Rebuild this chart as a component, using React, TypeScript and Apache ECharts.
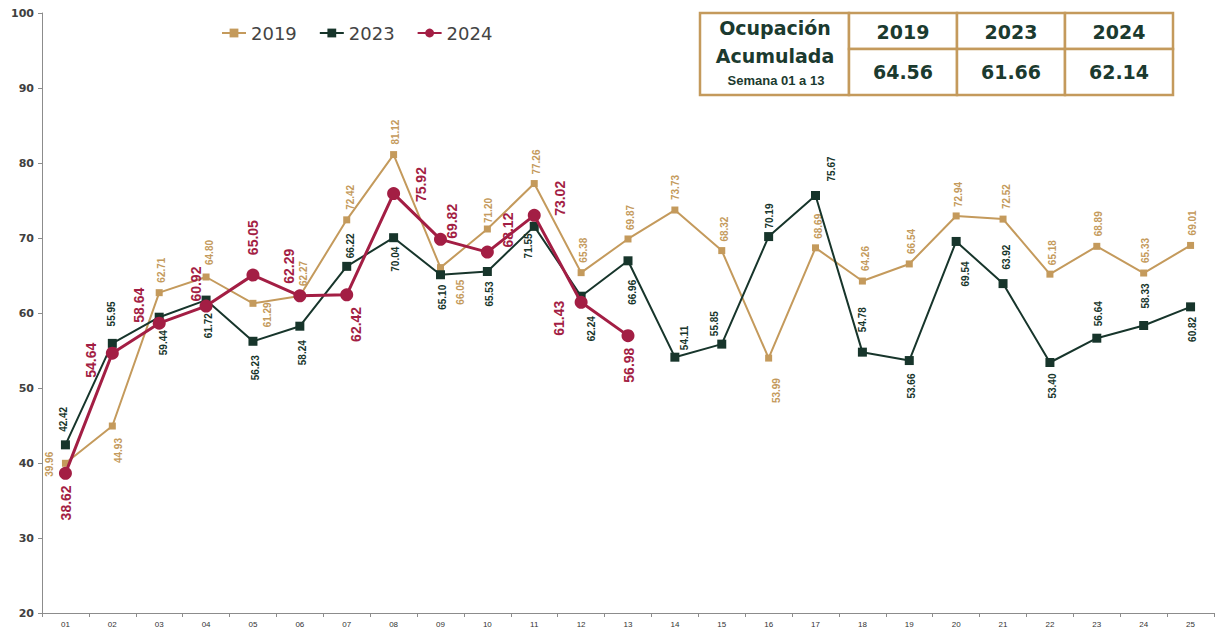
import React, { useEffect, useRef } from "react";
import * as echarts from "echarts";

const weeks = ["01","02","03","04","05","06","07","08","09","10","11","12","13","14","15","16","17","18","19","20","21","22","23","24","25"];
const occ2019 = [39.96,44.93,62.71,64.80,61.29,62.27,72.42,81.12,66.05,71.20,77.26,65.38,69.87,73.73,68.32,53.99,68.69,64.26,66.54,72.94,72.52,65.18,68.89,65.33,69.01];
const occ2023 = [42.42,55.95,59.44,61.72,56.23,58.24,66.22,70.04,65.10,65.53,71.55,62.24,66.96,54.11,55.85,70.19,75.67,54.78,53.66,69.54,63.92,53.40,56.64,58.33,60.82];
const occ2024 = [38.62,54.64,58.64,60.92,65.05,62.29,62.42,75.92,69.82,68.12,73.02,61.43,56.98];
const seriesNames = ["2019", "2023", "2024"];
const yMin = 20;
const yMax = 100;
const yStep = 10;
const tableTitle = ["Ocupación", "Acumulada", "Semana 01 a 13"];
const tableYears = ["2019", "2023", "2024"];
const tableValues = ["64.56", "61.66", "62.14"];

// label placement: mode (T above, B below, C centred), dx, dy from the point
type Place = [string, number, number];
const place2019: Place[] = [
  ["C",-16,1],["B",6,12],["T",2,-10],["T",3,-12],["B",15,-1],["T",4,-10],["T",4,-10],["T",2,-10],["B",20,12],["T",1,-6],["T",2,-9],["T",2,-10],["T",2,-9],
  ["T",1,-10],["T",3,-9],["B",8,20],["T",3,-9],["T",3,-10],["T",2,-10],["T",2,-9],["T",3,-10],["T",3,-9],["T",2,-10],["T",2,-10],["T",2,-10],
];
const place2023: Place[] = [
  ["T",-2,-13],["T",-1,-17],["B",4,13],["B",2,13],["B",3,14],["B",3,14],["T",4,-8],["B",2,9],["B",2,10],["B",2,10],["B",-6,7],["B",10,20],["B",4,19],
  ["T",10,-7],["T",-7,-8],["T",1,-8],["T",16,-14],["T",0,-20],["B",2,13],["B",9,20],["T",3,-14],["B",3,11],["T",2,-12],["T",2,-17],["B",2,10],
];
const place2024: Place[] = [
  ["B",1,12],["C",-21,7],["C",-20,-18],["C",-10,-22],["T",0,-20],["T",-11,-12],["B",9,12],["C",27,-9],["C",12,-18],["C",21,-22],["C",26,-17],["C",-22,16],["B",1,12],
];

const TAN = "#C49A5C";
const GREEN = "#17352B";
const RED = "#A31E44";
const LABEL_FONT = "'Liberation Sans', Arial, sans-serif";

function buildData(values: number[], places: Place[], symSize: number, color: string, fontSize: number, fontWeight: any) {
  return values.map((v, i) => {
    const [mode, dx, dy] = places[i];
    const align = mode === "T" ? "left" : mode === "B" ? "right" : "center";
    return {
      value: v,
      label: {
        show: true,
        position: [symSize / 2 + dx, symSize / 2 + dy],
        rotate: 90,
        align,
        verticalAlign: "middle",
        color,
        fontSize,
        fontWeight,
        fontFamily: LABEL_FONT,
        formatter: (p: any) => Number(p.value).toFixed(2),
      },
    };
  });
}

export default function App() {
  const ref = useRef<HTMLDivElement>(null);
  useEffect(() => {
    if (!ref.current) return;
    const chart = echarts.init(ref.current, undefined, { renderer: "svg" });
    const textColor = "#1B3A2F";
    const cellX = [849, 957, 1065];
    const cellW = 108;
    const graphics: any[] = [
      { type: "rect", shape: { x: 700, y: 13, width: 149, height: 82 }, style: { fill: "#fff", stroke: TAN, lineWidth: 2.5 } },
    ];
    tableYears.forEach((yr, i) => {
      graphics.push({ type: "rect", shape: { x: cellX[i], y: 13, width: cellW, height: 36 }, style: { fill: "#fff", stroke: TAN, lineWidth: 2.5 } });
      graphics.push({ type: "rect", shape: { x: cellX[i], y: 49, width: cellW, height: 46 }, style: { fill: "#fff", stroke: TAN, lineWidth: 2.5 } });
      graphics.push({ type: "text", x: cellX[i] + cellW / 2, y: 32, style: { text: yr, fill: textColor, font: "bold 19px 'DejaVu Sans', sans-serif", textAlign: "center", textVerticalAlign: "middle" } });
      graphics.push({ type: "text", x: cellX[i] + cellW / 2, y: 72, style: { text: tableValues[i], fill: textColor, font: "bold 19px 'DejaVu Sans', sans-serif", textAlign: "center", textVerticalAlign: "middle" } });
    });
    graphics.push({ type: "text", x: 775, y: 28, style: { text: tableTitle[0], fill: textColor, font: "bold 19px 'DejaVu Sans', sans-serif", textAlign: "center", textVerticalAlign: "middle" } });
    graphics.push({ type: "text", x: 775, y: 56, style: { text: tableTitle[1], fill: textColor, font: "bold 19px 'DejaVu Sans', sans-serif", textAlign: "center", textVerticalAlign: "middle" } });
    graphics.push({ type: "text", x: 776, y: 80, style: { text: tableTitle[2], fill: textColor, font: "bold 13px 'Liberation Sans', Arial, sans-serif", textAlign: "center", textVerticalAlign: "middle" } });

    chart.setOption({
      animation: false,
      backgroundColor: "#fff",
      grid: { left: 42, right: 2, top: 13, bottom: 17, containLabel: false },
      legend: {
        data: seriesNames,
        left: 216,
        top: 19,
        itemWidth: 24,
        itemHeight: 11,
        itemGap: 22,
        textStyle: { fontSize: 18, color: "#444", fontFamily: "'DejaVu Sans', sans-serif" },
      },
      xAxis: {
        type: "category",
        data: weeks,
        boundaryGap: true,
        axisLine: { lineStyle: { color: "#8c8c8c", width: 1 } },
        axisTick: { show: true, interval: 0, length: 4, lineStyle: { color: "#8c8c8c" } },
        axisLabel: { interval: 0, fontSize: 8, color: "#333", margin: 7, fontFamily: LABEL_FONT },
        splitLine: { show: false },
      },
      yAxis: {
        type: "value",
        min: yMin,
        max: yMax,
        interval: yStep,
        axisLine: { show: true, lineStyle: { color: "#8c8c8c", width: 1 } },
        axisTick: { show: true, length: 4, lineStyle: { color: "#8c8c8c" } },
        axisLabel: { fontSize: 11, fontWeight: "bold", color: "#404040", margin: 8, fontFamily: "'DejaVu Sans', sans-serif" },
        splitLine: { show: false },
      },
      series: [
        {
          name: seriesNames[0],
          type: "line",
          data: buildData(occ2019, place2019, 7, TAN, 10, "bold"),
          symbol: "rect",
          symbolSize: 7,
          itemStyle: { color: TAN },
          lineStyle: { color: TAN, width: 2 },
          z: 2,
        },
        {
          name: seriesNames[1],
          type: "line",
          data: buildData(occ2023, place2023, 9, GREEN, 10, "bold"),
          symbol: "rect",
          symbolSize: 9,
          itemStyle: { color: GREEN },
          lineStyle: { color: GREEN, width: 2 },
          z: 3,
        },
        {
          name: seriesNames[2],
          type: "line",
          data: buildData(occ2024, place2024, 13, RED, 14, "bold"),
          symbol: "circle",
          symbolSize: 13,
          itemStyle: { color: RED },
          lineStyle: { color: RED, width: 3 },
          z: 4,
        },
      ],
      graphic: graphics,
    });
    return () => chart.dispose();
  }, []);
  return <div ref={ref} style={{ position: "fixed", left: 0, top: 0, width: 1216, height: 630, background: "#fff" }} />;
}
